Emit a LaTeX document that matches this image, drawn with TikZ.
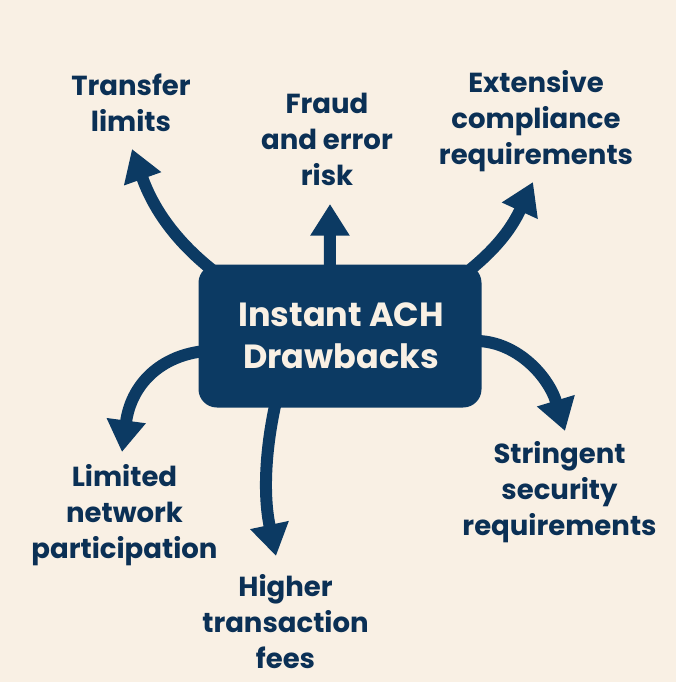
\documentclass[tikz,border=0pt]{standalone}
\usepackage{fontspec}
\setmainfont{Poppins}
\usetikzlibrary{arrows.meta}
\definecolor{bgc}{HTML}{F9F0E4}
\definecolor{navy}{HTML}{0C3A63}
\definecolor{ink}{HTML}{0B3055}
\tikzset{
  lab/.style={text=ink,font=\fontsize{23.5}{30.7}\selectfont\bfseries,align=center,inner sep=0pt},
  conn/.style={draw=navy,line width=0.36cm,-{Triangle[length=0.95cm,width=1.12cm]}},
}
\begin{document}
\begin{tikzpicture}[x=0.03cm,y=-0.03cm]
\useasboundingbox (0,0) rectangle (676,682);
\fill[bgc] (0,0) rectangle (676,682);
\node[rectangle,fill=navy,rounded corners=0.55cm,minimum width=283*0.03cm,minimum height=143*0.03cm,inner sep=0pt] (hub) at (340,336) {};
\node[text=bgc,font=\fontsize{28.6}{35.5}\selectfont\bfseries,align=center,inner sep=0pt] (title) at (341,336) {Instant ACH\\Drawbacks};
\node[lab] (t1) at (131,103) {Transfer\\limits};
\node[lab] (t2) at (327,139) {Fraud\\and error\\risk};
\node[lab] (t3) at (536,121) {Extensive\\compliance\\requirements};
\node[lab] (t4) at (124.5,515) {Limited\\network\\participation};
\node[lab] (t5) at (285.5,622) {Higher\\transaction\\fees};
\node[lab] (t6) at (559.5,492) {Stringent\\security\\requirements};
\coordinate (a1e) at (132,149);
\coordinate (a2e) at (330,204);
\coordinate (a3e) at (533,182);
\coordinate (a4e) at (122,452);
\coordinate (a5e) at (276,556);
\coordinate (a6e) at (565,431);
\draw[conn] ([shift={(2,6)}]hub.151) .. controls (172,238) and (152,205) .. (a1e);
\draw[conn] ([shift={(0,8)}]hub.98) -- (a2e);
\draw[conn] ([shift={(0,6)}]hub.29) .. controls (492,252) and (510,232) .. (a3e);
\draw[conn] ([shift={(8,0)}]hub.186.9) .. controls (160,355) and (131,385) .. (a4e);
\draw[conn] ([shift={(1,-8)}]hub.228.6) .. controls (267,440) and (262,490) .. (a5e);
\draw[conn] ([shift={(-8,0)}]hub.358.4) .. controls (515,340) and (548,375) .. (a6e);
\end{tikzpicture}
\end{document}
